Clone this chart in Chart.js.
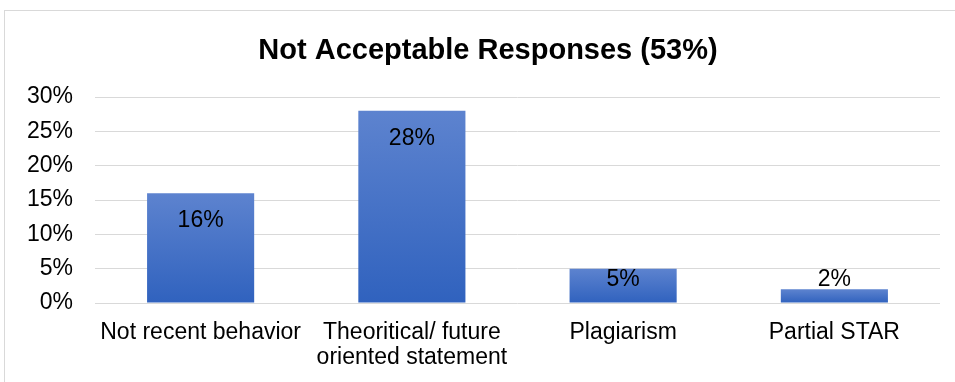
<!DOCTYPE html>
<html>
<head>
<meta charset="utf-8">
<script src="https://cdn.jsdelivr.net/npm/chart.js@4/dist/chart.umd.min.js"></script>
<style>
  html, body { margin: 0; padding: 0; background: #fff; }
  canvas { display: block; }
</style>
</head>
<body>
<canvas id="myChart" width="955" height="382"></canvas>
<script>
const categories = ['Not recent behavior', ['Theoritical/ future', 'oriented statement'], 'Plagiarism', 'Partial STAR'];
const percentages = [16, 28, 5, 2];
const chartTitle = 'Not Acceptable Responses (53%)';

const fontFamily = '"Liberation Sans", Arial, sans-serif';

// light frame around the chart, like the office chart box, plus the title
// (drawn by hand because the office title is centred on the frame, not the canvas)
const framePlugin = {
  id: 'frame',
  beforeDraw(chart) {
    const c = chart.ctx;
    c.save();
    c.fillStyle = '#fff';
    c.fillRect(0, 0, chart.width, chart.height);
    c.strokeStyle = '#d9d9d9';
    c.lineWidth = 1;
    c.strokeRect(4.5, 10.5, 1000, 400);
    c.font = 'bold 29px ' + fontFamily;
    c.fillStyle = '#000';
    c.textAlign = 'center';
    c.textBaseline = 'middle';
    c.fillText(chartTitle, 488, 51);
    c.restore();
  }
};

// value labels: inside the top of the bar, or above it when the bar is too short
const valueLabels = {
  id: 'valueLabels',
  afterDatasetsDraw(chart) {
    const c = chart.ctx;
    const meta = chart.getDatasetMeta(0);
    c.save();
    c.font = '23px ' + fontFamily;
    c.fillStyle = '#000';
    c.textAlign = 'center';
    c.textBaseline = 'middle';
    meta.data.forEach((bar, i) => {
      const y = Math.min(bar.y + 28, bar.base - 23);
      c.fillText(percentages[i] + '%', bar.x, y);
    });
    c.restore();
  }
};

const ctx = document.getElementById('myChart');

new Chart(ctx, {
  type: 'bar',
  data: {
    labels: categories,
    datasets: [{
      data: percentages,
      backgroundColor: (context) => {
        const yScale = context.chart.scales.y;
        if (!yScale || context.raw === undefined) return '#4472c4';
        const top = yScale.getPixelForValue(context.raw);
        const bottom = yScale.getPixelForValue(0);
        if (!isFinite(top) || !isFinite(bottom)) return '#4472c4';
        const g = context.chart.ctx.createLinearGradient(0, top, 0, bottom);
        g.addColorStop(0, '#5d83cf');
        g.addColorStop(1, '#3062be');
        return g;
      },
      borderWidth: 0,
      categoryPercentage: 1,
      barPercentage: 0.507
    }]
  },
  options: {
    responsive: false,
    animation: false,
    layout: { padding: { left: 0, right: 15, top: 97, bottom: 0 } },
    plugins: {
      legend: { display: false },
      tooltip: { enabled: false },
      title: { display: false }
    },
    scales: {
      x: {
        grid: { display: false, drawTicks: false },
        border: { display: false },
        ticks: {
          color: '#000',
          font: { family: fontFamily, size: 23, lineHeight: 1.1 },
          padding: 17,
          maxRotation: 0,
          autoSkip: false
        },
        afterFit(scale) { scale.height = 79; }
      },
      y: {
        min: 0,
        max: 30,
        grid: { color: '#d9d9d9', lineWidth: 1, drawTicks: false },
        border: { display: false },
        ticks: {
          stepSize: 5,
          color: '#000',
          font: { family: fontFamily, size: 23 },
          padding: 22,
          callback: (v) => v + '%'
        },
        afterFit(scale) { scale.width = 95; }
      }
    }
  },
  plugins: [framePlugin, valueLabels]
});
</script>
</body>
</html>
